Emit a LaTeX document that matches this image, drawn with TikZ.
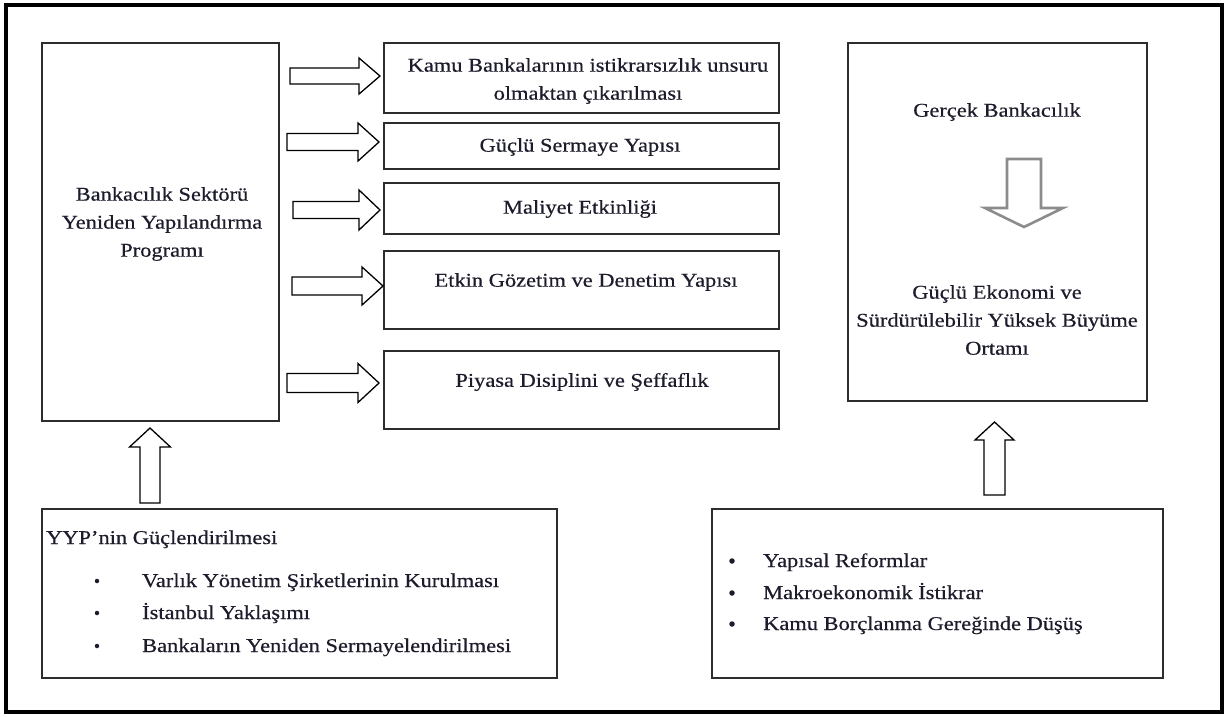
\documentclass[tikz,border=0pt]{standalone}
\usepackage{fontspec}
\setmainfont{Liberation Serif}[FakeStretch=1.15,FakeBold=0.45]
\usetikzlibrary{calc}
\definecolor{ink}{RGB}{28,28,44}
\definecolor{boxline}{RGB}{45,45,45}
\definecolor{softgray}{RGB}{140,140,140}

% rightward block arrow: tail, tip, shaft half-height, head half-height, head length
\newcommand\harrowblk[5]{%
  \draw[blockarrow] let \p1=(#1), \p2=(#2) in
    (\x1,\y2+#3) -- (\x2-#5,\y2+#3) -- (\x2-#5,\y2+#4) -- (\x2,\y2)
    -- (\x2-#5,\y2-#4) -- (\x2-#5,\y2-#3) -- (\x1,\y2-#3) -- cycle;}
% vertical block arrow: [style] tail, tip, shaft half-width, head half-width,
% head length (positive when pointing up, negative when pointing down)
\newcommand\varrowblk[6][blockarrow]{%
  \draw[#1] let \p1=(#2), \p2=(#3) in
    (\x2-#4,\y1) -- (\x2-#4,\y2-#6) -- (\x2-#5,\y2-#6) -- (\x2,\y2)
    -- (\x2+#5,\y2-#6) -- (\x2+#4,\y2-#6) -- (\x2+#4,\y1) -- cycle;}

\begin{document}
\begin{tikzpicture}[x=1pt,y=-1pt,
  box/.style={draw=boxline, line width=1.6pt, inner sep=0pt},
  txt/.style={text=ink, font=\fontsize{19.5}{28}\selectfont, align=center, inner sep=0pt},
  itemtxt/.style={text=ink, font=\fontsize{19.5}{28}\selectfont, inner sep=0pt, anchor=base west},
  dot/.style={circle, fill=ink, inner sep=0pt, minimum size=5.5pt},
  smalldot/.style={dot, minimum size=4.5pt},
  blockarrow/.style={draw=black, line width=1.3pt, fill=white, line join=miter},
  grayarrow/.style={draw=softgray, line width=2.6pt, fill=white, line join=miter}]
\useasboundingbox (0,0) rectangle (1226,716);
\fill[white] (0,0) rectangle (1226,716);

% outer frame
\draw[line width=3.5pt, black] (6,5) rectangle (1222,712);

% programme box
\node[box, minimum width=237pt, minimum height=378pt] (prog) at (160.5,232) {};
\node[txt] (progtxt) at (162,224) {Bankacılık Sektörü\\Yeniden Yapılandırma\\Programı};

% the five pillars
\node[box, minimum width=395pt, minimum height=70pt] (k1) at (581.5,78) {};
\node[txt] (k1txt) at (588,81) {Kamu Bankalarının istikrarsızlık unsuru\\olmaktan çıkarılması};
\node[box, minimum width=395pt, minimum height=46pt] (k2) at (581.5,146) {};
\node[txt] (k2txt) at (580,147) {Güçlü Sermaye Yapısı};
\node[box, minimum width=395pt, minimum height=51pt] (k3) at (581.5,208.5) {};
\node[txt] (k3txt) at (580,209) {Maliyet Etkinliği};
\node[box, minimum width=395pt, minimum height=78pt] (k4) at (581.5,290) {};
\node[txt] (k4txt) at (586,282) {Etkin Gözetim ve Denetim Yapısı};
\node[box, minimum width=395pt, minimum height=78pt] (k5) at (581.5,390) {};
\node[txt] (k5txt) at (582,382) {Piyasa Disiplini ve Şeffaflık};

% arrows from the programme to the pillars
\coordinate (a1s) at (290,76);  \coordinate (a1e) at (380,76);
\coordinate (a2s) at (287,142); \coordinate (a2e) at (379,142);
\coordinate (a3s) at (293,210); \coordinate (a3e) at (380,210);
\coordinate (a4s) at (292,286); \coordinate (a4e) at (383,286);
\coordinate (a5s) at (287,383); \coordinate (a5e) at (379,383);
\harrowblk{a1s}{a1e}{8}{18}{21}
\harrowblk{a2s}{a2e}{8.5}{19}{21}
\harrowblk{a3s}{a3e}{8.5}{20}{21}
\harrowblk{a4s}{a4e}{9}{19}{21}
\harrowblk{a5s}{a5e}{9.5}{19.5}{21}

% outcome box
\node[box, minimum width=299pt, minimum height=358pt] (goal) at (997.5,222) {};
\node[txt] (gb) at (997,112) {Gerçek Bankacılık};
\node[txt] (ge) at (997,320) {Güçlü Ekonomi ve\\Sürdürülebilir Yüksek Büyüme\\Ortamı};
\coordinate (dgs) at (1024,159); \coordinate (dge) at (1024,227);
\varrowblk[grayarrow]{dgs}{dge}{17}{39}{-19}

% restructuring agency box
\node[box, minimum width=515pt, minimum height=169pt] (yyp) at (299.5,593.5) {};
\node[itemtxt] (yyph) at (46,544) {YYP’nin Güçlendirilmesi};
\node[smalldot] (yb1) at (97,581) {};
\node[itemtxt] (yi1) at (142,587) {Varlık Yönetim Şirketlerinin Kurulması};
\node[smalldot] (yb2) at (97,613) {};
\node[itemtxt] (yi2) at (142,619) {İstanbul Yaklaşımı};
\node[smalldot] (yb3) at (97,646) {};
\node[itemtxt] (yi3) at (142,652) {Bankaların Yeniden Sermayelendirilmesi};
\coordinate (ul1) at (150,503); \coordinate (ul2) at (150,428);
\varrowblk{ul1}{ul2}{10}{20.5}{19}

% macro conditions box
\node[box, minimum width=451pt, minimum height=169pt] (macro) at (937.5,593.5) {};
\node[dot] (mb1) at (732,561) {};
\node[itemtxt] (mi1) at (763,567) {Yapısal Reformlar};
\node[dot] (mb2) at (732,593) {};
\node[itemtxt] (mi2) at (763,599) {Makroekonomik İstikrar};
\node[dot] (mb3) at (732,624) {};
\node[itemtxt] (mi3) at (763,630) {Kamu Borçlanma Gereğinde Düşüş};
\coordinate (ur1) at (994.5,495); \coordinate (ur2) at (994.5,422);
\varrowblk{ur1}{ur2}{10.5}{19.5}{18}
\end{tikzpicture}
\end{document}
